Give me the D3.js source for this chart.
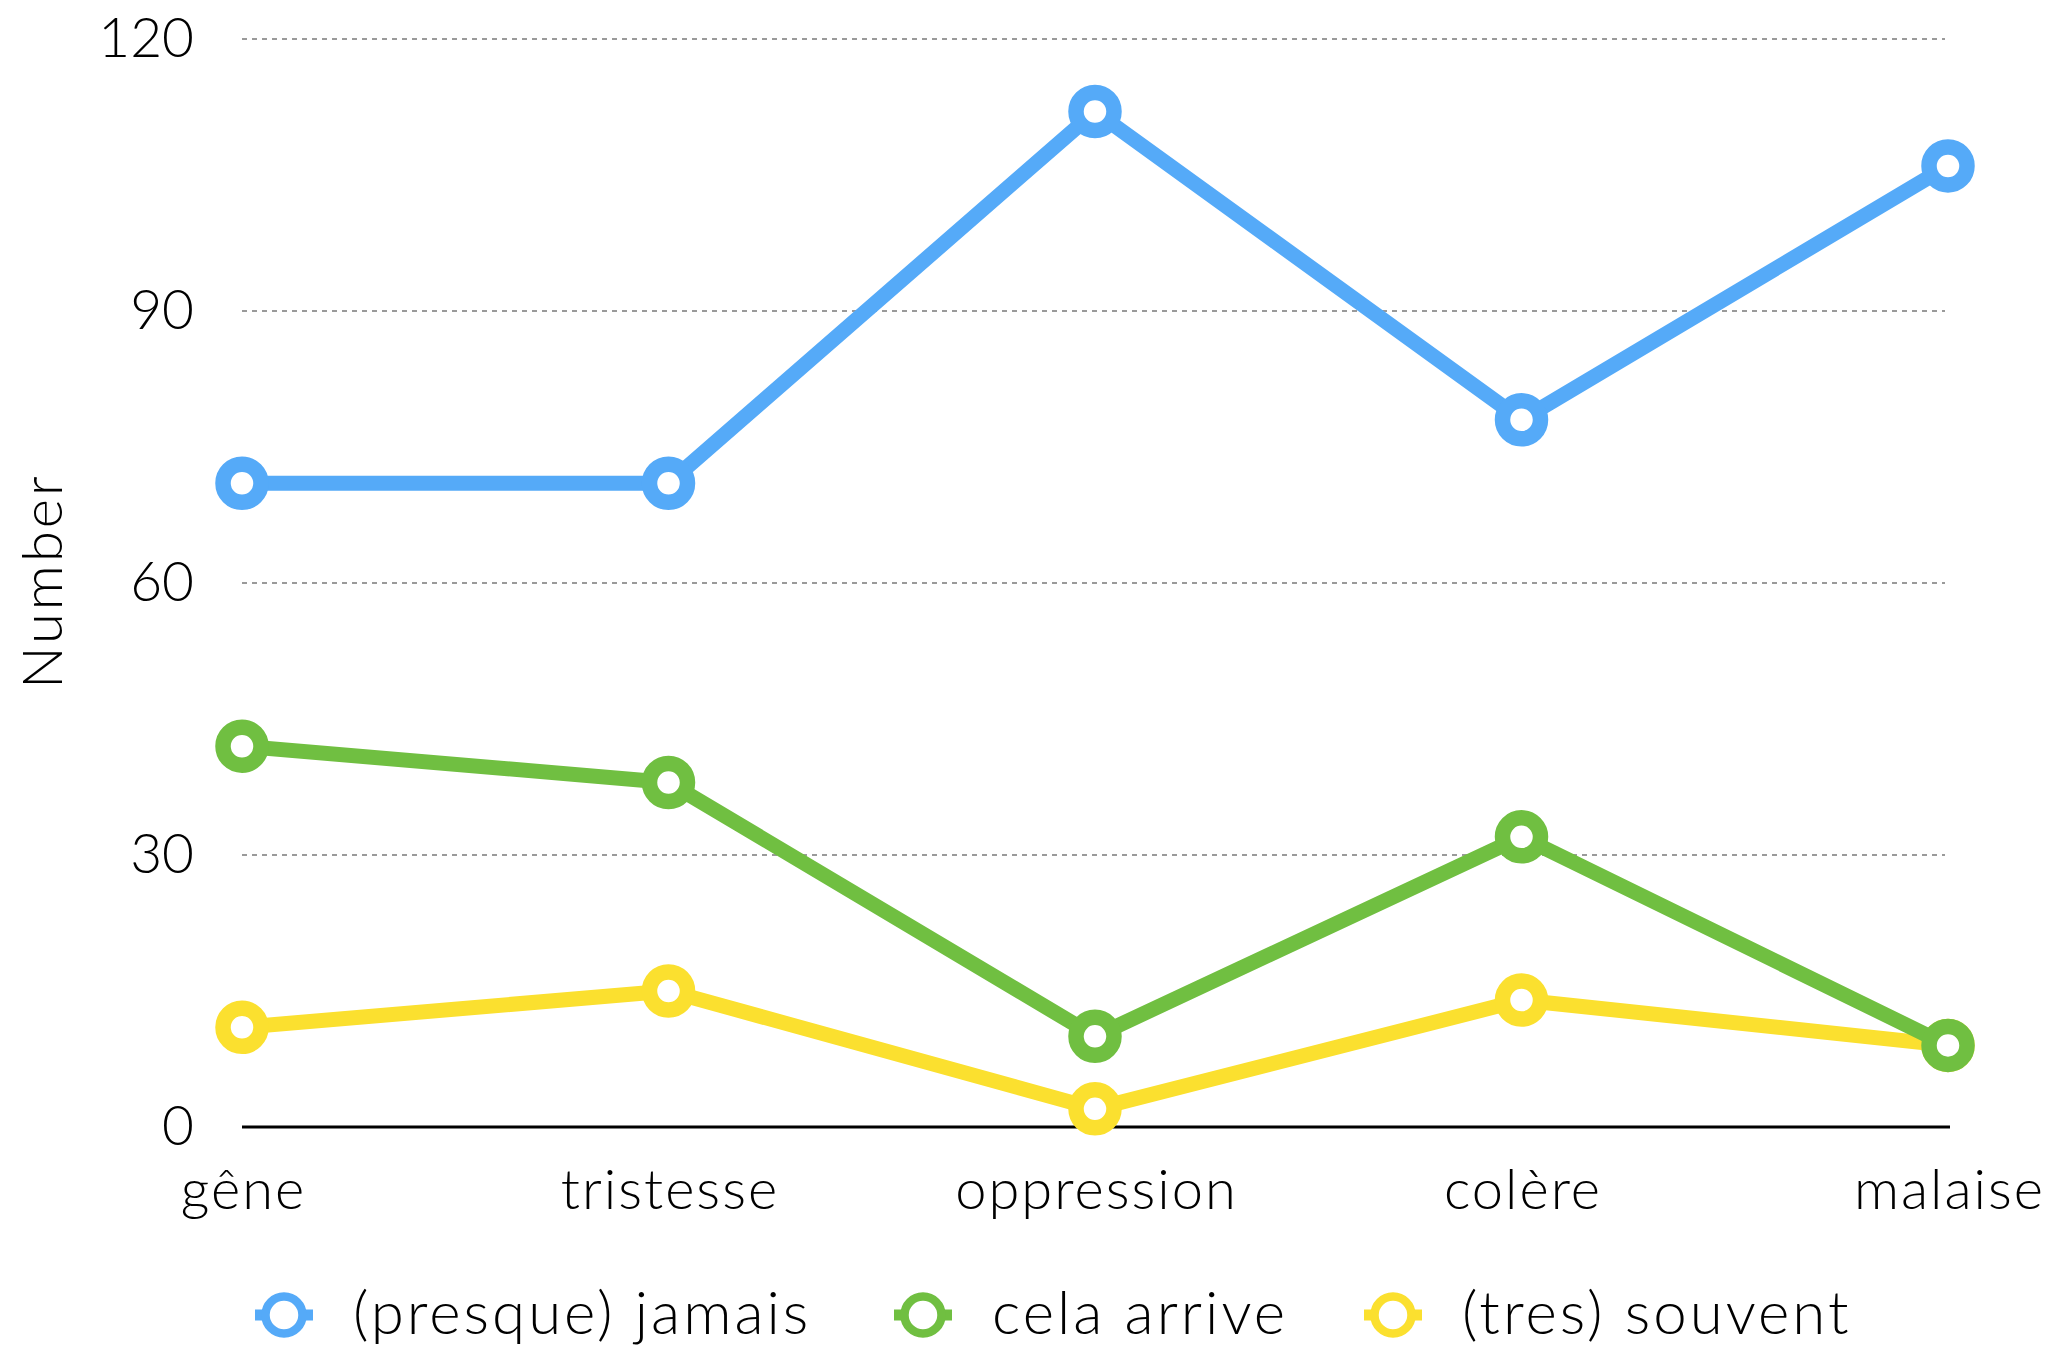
<!DOCTYPE html>
<html>
<head>
<meta charset="utf-8">
<script src="https://cdn.jsdelivr.net/npm/d3@7"></script>
<style>
  body { margin: 0; background: #fff; }
  text { font-family: Lato, "Open Sans", sans-serif; font-weight: 300; fill: #000; }
</style>
</head>
<body>
<svg id="chart"></svg>
<script>
// Chart data
const categories = ["gêne", "tristesse", "oppression", "colère", "malaise"];
const seriesNames = ["(presque) jamais", "cela arrive", "(tres) souvent"];
const jamais = [71, 71, 112, 78, 106];
const arrive = [42, 38, 10, 32, 9];
const souvent = [11, 15, 2, 14, 9];
const yTicks = [0, 30, 60, 90, 120];
const colors = ["#55aaf8", "#70bf41", "#fbe02f"];

const width = 2053;
const height = 1349;
const plotLeft = 242, plotRight = 1948, plotTop = 39, plotBottom = 1127;

const svg = d3.select("#chart")
    .attr("width", width)
    .attr("height", height);

const x = d3.scalePoint().domain(categories).range([plotLeft, plotRight]);
const y = d3.scaleLinear().domain([0, 120]).range([plotBottom, plotTop]);

// dashed grid lines
svg.append("g")
    .selectAll("line")
    .data(yTicks.filter(d => d > 0))
    .enter().append("line")
    .attr("x1", plotLeft)
    .attr("x2", plotRight - 3)
    .attr("y1", d => y(d))
    .attr("y2", d => y(d))
    .attr("stroke", "#9a9a9a")
    .attr("stroke-width", 2)
    .attr("stroke-dasharray", "5,5");

// y axis labels
const yAxis = svg.append("g")
    .attr("transform", `translate(${plotLeft},0)`)
    .call(d3.axisLeft(y).tickValues(yTicks).tickSize(0).tickPadding(48));
yAxis.select(".domain").remove();
yAxis.selectAll("text")
    .attr("font-size", 55)
    .attr("font-family", null);

// x axis
const xAxis = svg.append("g")
    .attr("transform", `translate(0,${plotBottom})`)
    .call(d3.axisBottom(x).tickSize(0).tickPadding(42));
xAxis.select(".domain").remove();
xAxis.selectAll("text")
    .attr("font-size", 56)
    .attr("letter-spacing", 2)
    .attr("dx", 1)
    .attr("font-family", null);

// baseline
svg.append("line")
    .attr("x1", plotLeft)
    .attr("x2", plotRight + 2)
    .attr("y1", y(0))
    .attr("y2", y(0))
    .attr("stroke", "#000")
    .attr("stroke-width", 3);

// y title
svg.append("text")
    .attr("transform", `translate(62,581) rotate(-90)`)
    .attr("text-anchor", "middle")
    .attr("font-size", 56)
    .attr("letter-spacing", 3)
    .text("Number");

// series, drawn last-first so the first one sits on top
const series = [jamais, arrive, souvent];
const line = d3.line().x((d, i) => x(categories[i])).y(d => y(d));

for (let s = series.length - 1; s >= 0; s--) {
    const g = svg.append("g");
    g.append("path")
        .datum(series[s])
        .attr("d", line)
        .attr("fill", "none")
        .attr("stroke", colors[s])
        .attr("stroke-width", 15)
        .attr("stroke-linejoin", "round");
    g.selectAll("circle")
        .data(series[s])
        .enter().append("circle")
        .attr("cx", (d, i) => x(categories[i]))
        .attr("cy", d => y(d))
        .attr("r", 19)
        .attr("fill", "#fff")
        .attr("stroke", colors[s])
        .attr("stroke-width", 15.5);
}

// legend
const legendX = [284, 923, 1393];
const legend = svg.append("g")
    .selectAll("g")
    .data(seriesNames)
    .enter().append("g")
    .attr("transform", (d, i) => `translate(${legendX[i]},1315)`);

legend.append("line")
    .attr("x1", -29)
    .attr("x2", 29)
    .attr("stroke", (d, i) => colors[i])
    .attr("stroke-width", 11);
legend.append("circle")
    .attr("r", 18.5)
    .attr("fill", "#fff")
    .attr("stroke", (d, i) => colors[i])
    .attr("stroke-width", 8.5);
legend.append("text")
    .attr("x", 69)
    .attr("y", 19)
    .attr("font-size", 60)
    .attr("letter-spacing", 3)
    .text(d => d);
</script>
</body>
</html>
